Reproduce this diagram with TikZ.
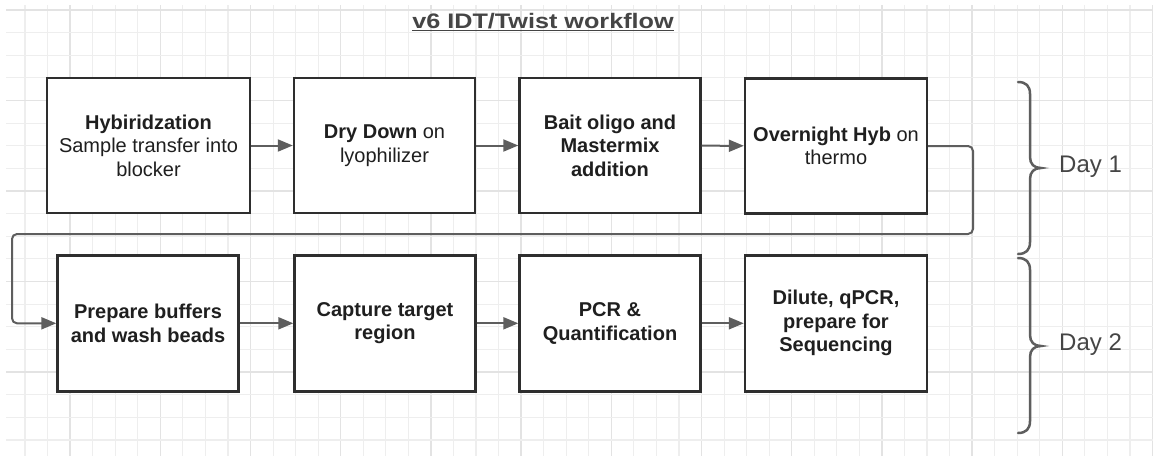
\documentclass[tikz,border=0pt]{standalone}
\usepackage{fontspec}
\setmainfont{Liberation Sans}
\usetikzlibrary{arrows.meta}
\definecolor{gridlight}{HTML}{EEEEEE}
\definecolor{griddark}{HTML}{E3E3E3}
\definecolor{boxline}{HTML}{2E2E2E}
\definecolor{arrowgray}{HTML}{5E5E5E}
\definecolor{textdark}{HTML}{1F1F1F}
\definecolor{textgray}{HTML}{454545}
\tikzset{
  stepbox/.style={draw=boxline, line width=2.4pt, fill=white, align=center,
    text=textdark, inner sep=0pt,
    font=\fontsize{20}{23.5}\selectfont},
  boldbox/.style={stepbox, font=\fontsize{20}{23.5}\selectfont\bfseries},
  flow/.style={draw=arrowgray, line width=2pt, -{Triangle[length=15pt,width=12pt]}},
  bracepath/.style={draw=arrowgray, line width=2.5pt, line cap=round},
  daylabel/.style={font=\fontsize{24}{28}\selectfont, text=textgray, anchor=west, inner sep=0pt}
}
\begin{document}
\begin{tikzpicture}[x=1pt, y=-1pt]
\useasboundingbox (0,0) rectangle (1153,456);
\fill[white] (0,0) rectangle (1153,456);
% grid
\foreach \k in {0,...,50} {
  \pgfmathsetmacro{\gx}{25+22.55*\k}
  \pgfmathtruncatemacro{\m}{mod(\k,4)}
  \ifnum\m=2
    \draw[griddark, line width=1.3pt] (\gx,5) -- (\gx,456);
  \else
    \draw[gridlight, line width=1.1pt] (\gx,5) -- (\gx,456);
  \fi
}
\foreach \j in {0,...,19} {
  \pgfmathsetmacro{\gy}{10+22.63*\j}
  \pgfmathtruncatemacro{\m}{mod(\j,4)}
  \ifnum\m=0
    \draw[griddark, line width=1.2pt] (6,\gy) -- (1153,\gy);
  \else
    \draw[gridlight, line width=1.1pt] (6,\gy) -- (1153,\gy);
  \fi
}
% title
\node[text=textgray, inner sep=0pt] (title) at (543,22)
  {\fontsize{21}{25}\selectfont\bfseries\scalebox{1.2}[1]{\underline{v6 IDT/Twist workflow}}};
% row 1
\node[stepbox, minimum width=203pt, minimum height=135pt] (b1) at (148.5,145.5)
  {\textbf{Hybiridzation}\\Sample transfer into\\blocker};
\node[stepbox, minimum width=181pt, minimum height=135pt] (b2) at (384.5,145.5)
  {\textbf{Dry Down} on\\lyophilizer};
\node[boldbox, minimum width=181pt, minimum height=135pt] (b3) at (610,145.5)
  {Bait oligo and\\Mastermix\\addition};
\node[stepbox, minimum width=182pt, minimum height=135pt] (b4) at (836,146)
  {\textbf{Overnight Hyb} on\\thermo};
% row 2
\node[boldbox, minimum width=181pt, minimum height=136pt] (b5) at (148,323.3)
  {Prepare buffers\\and wash beads};
\node[boldbox, minimum width=181pt, minimum height=136pt] (b6) at (385,323.3)
  {Capture target\\region};
\node[boldbox, minimum width=181pt, minimum height=136pt] (b7) at (610,323.3)
  {PCR \&\\Quantification};
\node[boldbox, minimum width=182pt, minimum height=136pt] (b8) at (836,323.3)
  {Dilute, qPCR,\\prepare for\\Sequencing};
% connectors
\draw[flow] (b1) -- (b2);
\draw[flow] (b2) -- (b3);
\draw[flow] (b3) -- (b4);
\draw[flow] (b5) -- (b6);
\draw[flow] (b6) -- (b7);
\draw[flow] (b7) -- (b8);
\coordinate (turnR) at (973,234);
\coordinate (turnL) at (12,234);
\draw[flow, rounded corners=5pt] (b4.east) -| (turnR) -- (turnL) |- (b5.west);
% braces
\draw[bracepath] (1018,82) .. controls (1026,82) and (1030,86) .. (1030,94)
  -- (1030,157) .. controls (1030,164) and (1034,168) .. (1041,168)
  .. controls (1034,168) and (1030,172) .. (1030,179)
  -- (1030,242) .. controls (1030,250) and (1026,254) .. (1018,254);
\draw[bracepath] (1018,258) .. controls (1026,258) and (1030,262) .. (1030,270)
  -- (1030,335) .. controls (1030,342) and (1034,346) .. (1041,346)
  .. controls (1034,346) and (1030,350) .. (1030,357)
  -- (1030,421) .. controls (1030,429) and (1026,433) .. (1018,433);
\node[daylabel] (day1) at (1059,167) {Day 1};
\node[daylabel] (day2) at (1059,345) {Day 2};
\end{tikzpicture}
\end{document}
